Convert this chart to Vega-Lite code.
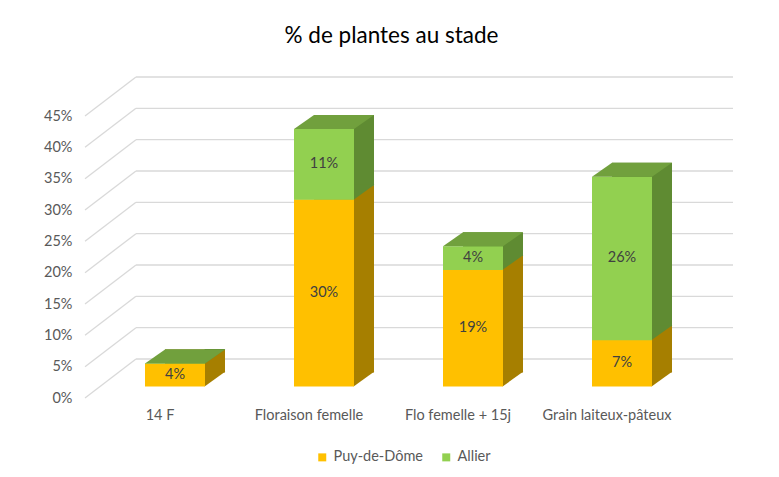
{
  "$schema": "https://vega.github.io/schema/vega-lite/v6.json",
  "width": 627,
  "height": 282,
  "autosize": "none",
  "padding": {"left": 85, "top": 116, "right": 67, "bottom": 79},
  "config": {
    "font": "Lato",
    "view": {"stroke": null},
    "axisY": {"title": null, "domain": false, "ticks": false, "grid": false, "labelOverlap": false, "labelPadding": 13, "labelFontSize": 14.5, "labelColor": "#595959", "labelFont": "Lato", "format": ".0%"}
  },
  "title": {"text": "% de plantes au stade", "fontSize": 22.5, "font": "Lato", "fontWeight": "normal", "color": "#000000", "anchor": "middle", "dx": -7, "offset": 29},
  "datasets": {
    "bars": [
      {"stage": "14 F", "series": "Puy-de-Dôme", "value": 0.036},
      {"stage": "14 F", "series": "Allier", "value": 0},
      {"stage": "Floraison femelle", "series": "Puy-de-Dôme", "value": 0.298},
      {"stage": "Floraison femelle", "series": "Allier", "value": 0.112},
      {"stage": "Flo femelle + 15j", "series": "Puy-de-Dôme", "value": 0.186},
      {"stage": "Flo femelle + 15j", "series": "Allier", "value": 0.037},
      {"stage": "Grain laiteux-pâteux", "series": "Puy-de-Dôme", "value": 0.074},
      {"stage": "Grain laiteux-pâteux", "series": "Allier", "value": 0.26}
    ],
    "ticks": [
      {"v": 0}, {"v": 0.05}, {"v": 0.1}, {"v": 0.15}, {"v": 0.2},
      {"v": 0.25}, {"v": 0.3}, {"v": 0.35}, {"v": 0.4}, {"v": 0.45}
    ]
  },
  "layer": [
    {
      "data": {"name": "ticks"},
      "mark": {"type": "rule", "yOffset": -39, "color": "#D9D9D9", "strokeWidth": 1.3},
      "encoding": {
        "x": {"datum": 0.0813, "type": "quantitative", "scale": {"domain": [0, 1]}, "axis": null},
        "x2": {"datum": 1.0335},
        "y": {
          "field": "v", "type": "quantitative", "title": null,
          "scale": {"domain": [0, 0.45], "nice": false},
          "axis": {"values": [0, 0.05, 0.1, 0.15, 0.2, 0.25, 0.3, 0.35, 0.4, 0.45], "tickCount": 10}
        }
      }
    },
    {
      "data": {"name": "ticks"},
      "mark": {"type": "rule", "y2Offset": -39, "color": "#D9D9D9", "strokeWidth": 1.3},
      "encoding": {
        "x": {"datum": 0, "type": "quantitative", "scale": {"domain": [0, 1]}, "axis": null},
        "x2": {"datum": 0.0813},
        "y": {"field": "v", "type": "quantitative", "title": null, "axis": {"values": [0, 0.05, 0.1, 0.15, 0.2, 0.25, 0.3, 0.35, 0.4, 0.45], "tickCount": 10}},
        "y2": {"field": "v"}
      }
    },
    {
      "data": {"name": "bars"},
      "transform": [
        {"stack": "value", "groupby": ["stage"], "sort": [{"field": "series", "order": "descending"}], "as": ["y0", "y1"]},
        {"calculate": "(datum.y0 + datum.y1) / 2", "as": "mid"}
      ],
      "encoding": {
        "x": {
          "field": "stage", "type": "nominal", "title": null,
          "sort": ["14 F", "Floraison femelle", "Flo femelle + 15j", "Grain laiteux-pâteux"],
          "scale": {"paddingInner": 0.6, "paddingOuter": 0.404},
          "axis": {"title": null, "domain": false, "ticks": false, "labelAngle": 0, "labelPadding": 10, "labelOffset": -15, "labelFontSize": 14.5, "labelColor": "#595959", "labelFont": "Lato"}
        },
        "y": {"field": "y1", "type": "quantitative", "title": null, "axis": {"values": [0, 0.05, 0.1, 0.15, 0.2, 0.25, 0.3, 0.35, 0.4, 0.45], "tickCount": 10}}
      },
      "layer": [
        {
          "mark": {"type": "bar", "size": 60, "xOffset": 20, "yOffset": -26, "y2Offset": -25.4},
          "encoding": {
            "y2": {"field": "y0"},
            "color": {"condition": {"test": "datum.series === 'Allier'", "value": "#5F8B32"}, "value": "#A67F00"}
          }
        },
        {
          "mark": {"type": "point", "shape": "M 29.6 -14.4 L 29.6 0.4 L 50.4 -14.4 Z", "size": 4, "filled": true, "opacity": 1, "strokeWidth": 0, "yOffset": -12},
          "encoding": {
            "y": {"field": "y0", "type": "quantitative", "title": null, "axis": {"values": [0, 0.05, 0.1, 0.15, 0.2, 0.25, 0.3, 0.35, 0.4, 0.45], "tickCount": 10}},
            "color": {"condition": {"test": "datum.series === 'Allier'", "value": "#5F8B32"}, "value": "#A67F00"}
          }
        },
        {
          "mark": {"type": "bar", "size": 60, "yOffset": -12, "y2Offset": -11.4},
          "encoding": {
            "y2": {"field": "y0"},
            "color": {
              "field": "series", "type": "nominal",
              "scale": {"domain": ["Puy-de-Dôme", "Allier"], "range": ["#FFC000", "#92D050"]},
              "legend": {"orient": "none", "legendX": 230, "legendY": 334, "direction": "horizontal", "title": null, "symbolType": "square", "symbolSize": 64, "symbolStrokeWidth": 0, "labelFontSize": 14.5, "labelColor": "#595959", "labelFont": "Lato", "labelOffset": 4, "columnPadding": 16}
            }
          }
        },
        {
          "transform": [{"filter": "datum.series === 'Allier'"}],
          "mark": {"type": "point", "shape": "M -30 0 L -10 -14 L 50 -14 L 30 0 Z", "size": 4, "filled": true, "opacity": 1, "strokeWidth": 0, "yOffset": -12, "color": "#71A03D"}
        },
        {
          "transform": [{"filter": "datum.value > 0"}],
          "mark": {"type": "text", "yOffset": -12, "fontSize": 14.5, "color": "#404040", "font": "Lato"},
          "encoding": {
            "y": {"field": "mid", "type": "quantitative", "title": null, "axis": {"values": [0, 0.05, 0.1, 0.15, 0.2, 0.25, 0.3, 0.35, 0.4, 0.45], "tickCount": 10}},
            "text": {"field": "value", "type": "quantitative", "format": ".0%"}
          }
        }
      ]
    }
  ],
  "resolve": {"scale": {"x": "independent"}}
}
